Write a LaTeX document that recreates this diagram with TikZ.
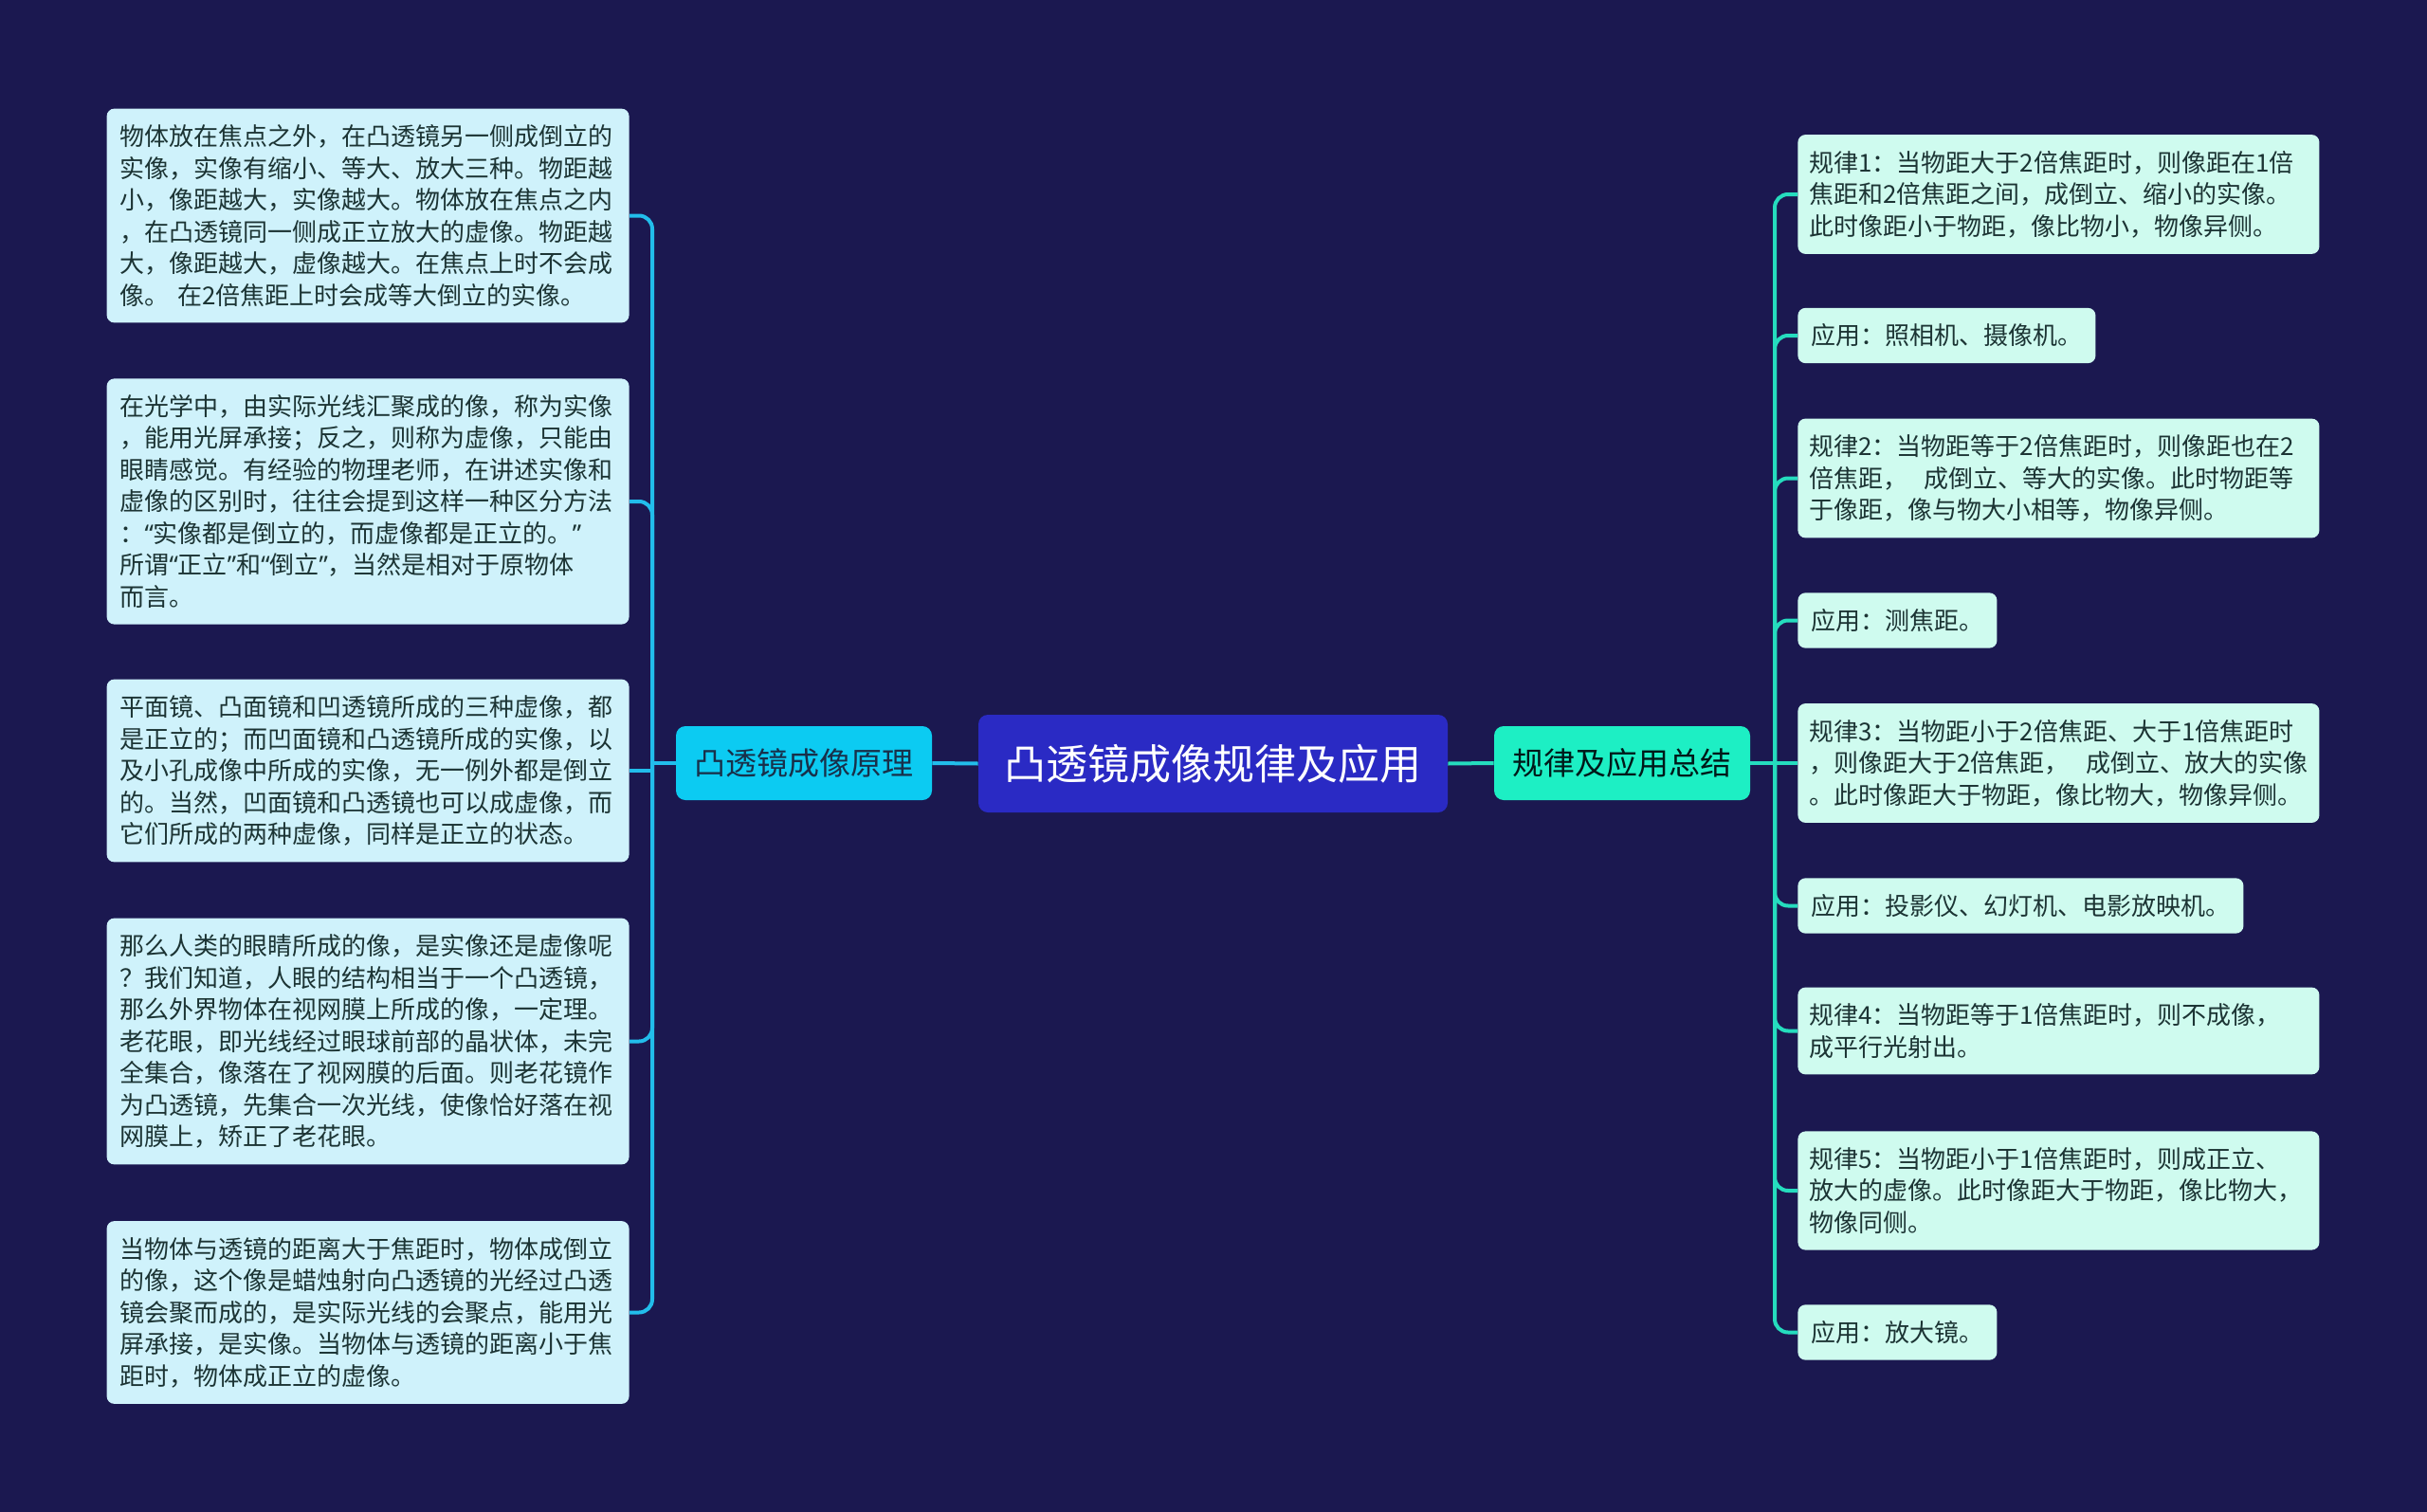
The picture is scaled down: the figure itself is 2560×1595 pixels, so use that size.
\documentclass[tikz,border=0pt]{standalone}
\usepackage{fontspec}
\newfontfamily\cjk{Noto Sans CJK SC}
\newfontfamily\latq{Noto Sans}
\newcommand\oq{{\latq “}}
\newcommand\cq{{\latq ”}}

\definecolor{bgnavy}{HTML}{1B1850}
\definecolor{rootblue}{HTML}{2A2AC4}
\definecolor{lsubfill}{HTML}{0CCBF2}
\definecolor{rsubfill}{HTML}{1DEFC4}
\definecolor{lleaffill}{HTML}{CFF2FB}
\definecolor{rleaffill}{HTML}{CFFBEF}
\definecolor{llinec}{HTML}{22BDEB}
\definecolor{rlinec}{HTML}{25DCBE}
\definecolor{leaftext}{HTML}{1C3434}
\definecolor{subtext}{HTML}{18304A}

\tikzset{
  leaf/.style={rounded corners=4pt,inner xsep=7pt,inner ysep=8.5pt,align=left,
    text=leaftext,font=\cjk\fontsize{13pt}{16.75pt}\selectfont},
  lleaf/.style={leaf,fill=lleaffill,text width=261.5pt,anchor=east},
  rleaf/.style={leaf,fill=rleaffill,anchor=west},
  wide/.style={text width=263pt,inner xsep=6pt},
  sub/.style={rounded corners=5pt,minimum width=135pt,minimum height=39pt,inner sep=0pt,
    font=\cjk\fontsize{16.5pt}{20pt}\selectfont},
  lline/.style={draw=llinec,line width=2pt},
  rline/.style={draw=rlinec,line width=2pt},
}

\begin{document}
\begin{tikzpicture}[x=0.5pt,y=-0.5pt]
\fill[bgnavy] (0,0) rectangle (2560,1595);

% centre and the two branches
\node[fill=rootblue,text=white,rounded corners=5pt,minimum width=247.5pt,minimum height=51.5pt,
  inner sep=0pt,font=\cjk\fontsize{22pt}{26pt}\selectfont] (root) at (1279.5,805.5) {凸透镜成像规律及应用};
\node[sub,fill=lsubfill,text=subtext] (lsub) at (848,805) {凸透镜成像原理};
\node[sub,fill=rsubfill,text=black!80!teal] (rsub) at (1711,805) {规律及应用总结};

% left leaves
\node[lleaf] (l1) at (664,227.5) {物体放在焦点之外，在凸透镜另一侧成倒立的\\
实像，实像有缩小、等大、放大三种。物距越\\
小，像距越大，实像越大。物体放在焦点之内\\
，在凸透镜同一侧成正立放大的虚像。物距越\\
大，像距越大，虚像越大。在焦点上时不会成\\
像。 在2倍焦距上时会成等大倒立的实像。};
\node[lleaf] (l2) at (664,529) {在光学中，由实际光线汇聚成的像，称为实像\\
，能用光屏承接；反之，则称为虚像，只能由\\
眼睛感觉。有经验的物理老师，在讲述实像和\\
虚像的区别时，往往会提到这样一种区分方法\\
：\oq 实像都是倒立的，而虚像都是正立的。\cq\\
所谓\oq 正立\cq 和\oq 倒立\cq ，当然是相对于原物体\\
而言。};
\node[lleaf] (l3) at (664,813) {平面镜、凸面镜和凹透镜所成的三种虚像，都\\
是正立的；而凹面镜和凸透镜所成的实像，以\\
及小孔成像中所成的实像，无一例外都是倒立\\
的。当然，凹面镜和凸透镜也可以成虚像，而\\
它们所成的两种虚像，同样是正立的状态。};
\node[lleaf] (l4) at (664,1098.5) {那么人类的眼睛所成的像，是实像还是虚像呢\\
？我们知道，人眼的结构相当于一个凸透镜，\\
那么外界物体在视网膜上所成的像，一定理。\\
老花眼，即光线经过眼球前部的晶状体，未完\\
全集合，像落在了视网膜的后面。则老花镜作\\
为凸透镜，先集合一次光线，使像恰好落在视\\
网膜上，矫正了老花眼。};
\node[lleaf] (l5) at (664,1384.5) {当物体与透镜的距离大于焦距时，物体成倒立\\
的像，这个像是蜡烛射向凸透镜的光经过凸透\\
镜会聚而成的，是实际光线的会聚点，能用光\\
屏承接，是实像。当物体与透镜的距离小于焦\\
距时，物体成正立的虚像。};

% right leaves
\node[rleaf,wide] (r1) at (1896,205) {规律1：当物距大于2倍焦距时，则像距在1倍\\
焦距和2倍焦距之间，成倒立、缩小的实像。\\
此时像距小于物距，像比物小，物像异侧。};
\node[rleaf] (r2) at (1896,354) {应用：照相机、摄像机。};
\node[rleaf,wide] (r3) at (1896,504.5) {规律2：当物距等于2倍焦距时，则像距也在2\\
倍焦距，~~成倒立、等大的实像。此时物距等\\
于像距，像与物大小相等，物像异侧。};
\node[rleaf] (r4) at (1896,654.5) {应用：测焦距。};
\node[rleaf,wide] (r5) at (1896,805) {规律3：当物距小于2倍焦距、大于1倍焦距时\\
，则像距大于2倍焦距，~~成倒立、放大的实像\\
。此时像距大于物距，像比物大，物像异侧。};
\node[rleaf] (r6) at (1896,955.5) {应用：投影仪、幻灯机、电影放映机。};
\node[rleaf,wide] (r7) at (1896,1087.5) {规律4：当物距等于1倍焦距时，则不成像，\\
成平行光射出。};
\node[rleaf,wide] (r8) at (1896,1256) {规律5：当物距小于1倍焦距时，则成正立、\\
放大的虚像。此时像距大于物距，像比物大，\\
物像同侧。};
\node[rleaf] (r9) at (1896,1405.5) {应用：放大镜。};

% connectors
\coordinate (lj) at (688,805);
\coordinate (rj) at (1872,805);
\draw[lline] (root.west) -- (lsub.east);
\draw[rline] (root.east) -- (rsub.west);
\draw[lline] (lsub.west) -- (lj);
\foreach \n in {l1,l2,l4,l5}
  \draw[lline,rounded corners=7pt] (lj) |- (\n.east);
\draw[lline] (lj) |- (l3.east);
\draw[rline] (rsub.east) -- (rj);
\foreach \n in {r1,r2,r3,r4,r6,r7,r8,r9}
  \draw[rline,rounded corners=7pt] (rj) |- (\n.west);
\draw[rline] (rj) -- (r5.west);
\end{tikzpicture}
\end{document}
